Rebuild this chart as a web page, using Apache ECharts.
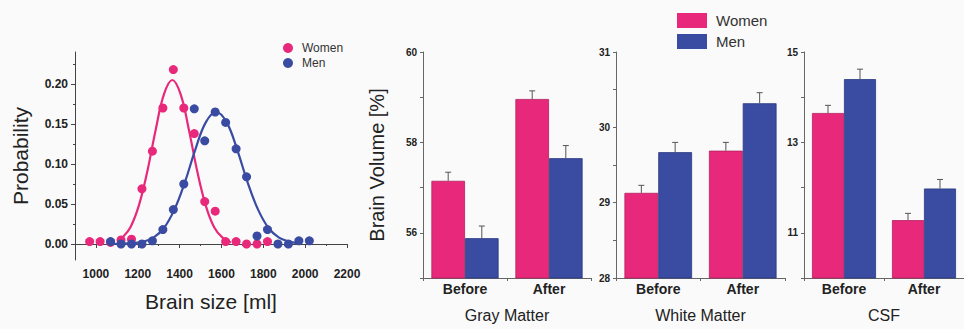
<!DOCTYPE html>
<html><head><meta charset="utf-8">
<script src="https://cdn.jsdelivr.net/npm/echarts@6/dist/echarts.min.js"></script>
<style>html,body{margin:0;padding:0;background:#fafafa}#c{width:964px;height:329px}</style>
</head><body><div id="c"></div>
<script>
// ---- Left panel: brain size distribution ----
const womenX = [970,1020,1070,1120,1170,1220,1270,1320,1370,1420,1470,1520,1570,1620,1670,1720,1770,1820];
const womenY = [0.003,0.003,0.002,0.005,0.006,0.069,0.116,0.170,0.218,0.170,0.138,0.053,0.041,0.003,0.003,0.000,0.000,0.003];
const menX = [1070,1120,1170,1220,1270,1320,1370,1420,1470,1520,1570,1620,1670,1720,1770,1820,1870,1920,1970,2020];
const menY = [0.003,0.000,0.000,0.000,0.004,0.018,0.043,0.075,0.169,0.129,0.165,0.152,0.119,0.084,0.010,0.018,0.000,0.000,0.004,0.004];
const womenFitX = [1130,1165,1205,1245,1285,1325,1365,1405,1445,1485,1525,1565,1605,1645];
const womenFitY = [0.009,0.021,0.048,0.090,0.142,0.187,0.205,0.187,0.142,0.090,0.048,0.021,0.008,0.002];
const menFitX = [1080,1175,1225,1275,1325,1375,1425,1475,1525,1575,1625,1675,1725,1775,1825,1875,1925,1960];
const menFitY = [0.000,0.001,0.003,0.008,0.020,0.043,0.077,0.118,0.152,0.165,0.152,0.118,0.077,0.043,0.020,0.008,0.003,0.001];
const sizeTicks = [1000,1200,1400,1600,1800,2000,2200];
const sizeMinorTicks = [1100,1300,1500,1700,1900,2100];
const probTicks = [0,0.05,0.10,0.15,0.20];
const probMinorTicks = [0.025,0.075,0.125,0.175,0.225];

// ---- Right panels: brain volume bars ----
const categories = ['Before','After'];
const grayWomen = [57.15, 58.96];
const grayWomenErr = [0.19, 0.18];
const grayMen = [55.88, 57.65];
const grayMenErr = [0.27, 0.28];
const whiteWomen = [29.13, 29.69];
const whiteWomenErr = [0.10, 0.11];
const whiteMen = [29.67, 30.32];
const whiteMenErr = [0.13, 0.14];
const csfWomen = [13.65, 11.28];
const csfWomenErr = [0.17, 0.15];
const csfMen = [14.40, 11.98];
const csfMenErr = [0.22, 0.20];
const grayTicks = [56,58,60], grayAllTicks = [55,56,57,58,59,60];
const whiteTicks = [28,29,30,31], whiteAllTicks = [28,28.5,29,29.5,30,30.5,31];
const csfTicks = [11,13,15], csfAllTicks = [10,11,12,13,14,15];

const PINK = '#e8297b', BLUE = '#3a4ba2';
const TXT = '#222';
const zip = (a,b) => a.map((v,i)=>[v,b[i]]);

const chart = echarts.init(document.getElementById('c'), null, {renderer:'svg'});

function errSeries(name, xi, yi, vals, errs, sign){
  return {
    type:'custom', name: name+'-err', xAxisIndex:xi, yAxisIndex:yi, z:5, silent:true,
    encode:{x:0,y:1},
    data: vals.map((v,i)=>[i, v, errs[i]]),
    renderItem(params, api){
      const ci = api.value(0), v = api.value(1), e = api.value(2);
      const p0 = api.coord([ci, v]);
      const p1 = api.coord([ci, v+e]);
      const bw = api.size([1,0])[0];
      const x = p0[0] + sign*bw*0.2;
      const st = {stroke:'#555', lineWidth:1};
      return {type:'group', children:[
        {type:'line', shape:{x1:x,y1:p0[1],x2:x,y2:p1[1]}, style:st},
        {type:'line', shape:{x1:x-3,y1:p1[1],x2:x+3,y2:p1[1]}, style:st}
      ]};
    }
  };
}

const grids = [
  {left:75, top:52, width:272, height:208},
  {left:423, top:52, width:168, height:226},
  {left:616, top:52, width:169, height:226},
  {left:804, top:52, width:168, height:226}
];

const axisLineDark = {lineStyle:{color:'#444', width:1}};
const axisLineGray = {lineStyle:{color:'#666', width:1}};

const xAxes = [
  {type:'value', gridIndex:0, min:900, max:2200, position:'bottom',
   axisLine:axisLineDark, splitLine:{show:false},
   axisTick:{customValues:sizeTicks, length:4, lineStyle:{color:'#444'}},
   axisLabel:{customValues:sizeTicks, formatter:v=>String(v), fontSize:12, fontWeight:'bold', color:TXT, margin:8, fontFamily:'Liberation Sans'},
   name:'Brain size [ml]', nameLocation:'middle', nameGap:31,
   nameTextStyle:{fontSize:21, color:TXT, fontFamily:'Liberation Sans'}},
  {type:'value', gridIndex:0, min:900, max:2200, position:'bottom', offset:0,
   axisLine:{show:false}, splitLine:{show:false}, axisLabel:{show:false},
   axisTick:{customValues:sizeMinorTicks, length:2, lineStyle:{color:'#444'}}}
];
const yAxes = [
  {type:'value', gridIndex:0, min:-0.02, max:0.24, position:'left',
   axisLine:{show:true, ...axisLineDark}, splitLine:{show:false},
   axisTick:{show:true, customValues:probTicks, length:4, lineStyle:{color:'#444'}},
   axisLabel:{customValues:probTicks, formatter:v=>v.toFixed(2), fontSize:12, fontWeight:'bold', color:TXT, margin:7, fontFamily:'Liberation Sans'},
   name:'Probability', nameLocation:'middle', nameGap:44,
   nameTextStyle:{fontSize:21, color:TXT, fontFamily:'Liberation Sans'}},
  {type:'value', gridIndex:0, min:-0.02, max:0.24, position:'left', offset:0,
   axisLine:{show:false}, splitLine:{show:false}, axisLabel:{show:false},
   axisTick:{show:true, customValues:probMinorTicks, length:2, lineStyle:{color:'#444'}}}
];

const panels = [
  {title:'Gray Matter', min:55, max:60, labels:grayTicks, ticks:grayAllTicks},
  {title:'White Matter', min:28, max:31, labels:whiteTicks, ticks:whiteAllTicks},
  {title:'CSF', min:10, max:15, labels:csfTicks, ticks:csfAllTicks}
];
panels.forEach((p, k) => {
  const gi = k+1;
  xAxes.push({type:'category', gridIndex:gi, data:categories, position:'bottom',
    axisLine:axisLineGray, axisTick:{show:true, length:3, lineStyle:{color:'#666'}},
    axisLabel:{fontSize:14, fontWeight:'bold', color:TXT, margin:4, fontFamily:'Liberation Sans'},
    name:p.title, nameLocation:'middle', nameGap:29,
    nameTextStyle:{fontSize:16, color:TXT, fontFamily:'Liberation Sans'}});
  const y = {type:'value', gridIndex:gi, min:p.min, max:p.max, position:'left',
    axisLine:{show:true, ...axisLineGray}, splitLine:{show:false},
    axisTick:{show:true, customValues:p.ticks, length:3, lineStyle:{color:'#666'}},
    axisLabel:{customValues:p.labels, fontSize:10, fontWeight:'bold', color:TXT, margin:6, fontFamily:'Liberation Sans'}};
  if (k === 0) {
    y.name = 'Brain Volume [%]'; y.nameLocation = 'middle'; y.nameGap = 36;
    y.nameTextStyle = {fontSize:20, color:TXT, fontFamily:'Liberation Sans'};
  }
  yAxes.push(y);
});

function barSeries(name, xi, yi, vals, color, border){
  return {type:'bar', name, xAxisIndex:xi, yAxisIndex:yi, data:vals,
    barGap:'0%', barCategoryGap:'20%',
    itemStyle:{color, borderColor:border, borderWidth:0.8}};
}

const series = [
  {type:'line', name:'Women fit', xAxisIndex:0, yAxisIndex:0, data:zip(womenFitX, womenFitY),
   smooth:0.4, showSymbol:false, lineStyle:{color:PINK, width:2.2}, silent:true},
  {type:'line', name:'Men fit', xAxisIndex:0, yAxisIndex:0, data:zip(menFitX, menFitY),
   smooth:0.4, showSymbol:false, lineStyle:{color:BLUE, width:2.2}, silent:true},
  {type:'scatter', name:'Women', xAxisIndex:0, yAxisIndex:0, data:zip(womenX, womenY),
   symbolSize:9, itemStyle:{color:PINK, opacity:1}},
  {type:'scatter', name:'Men', xAxisIndex:0, yAxisIndex:0, data:zip(menX, menY),
   symbolSize:9, itemStyle:{color:BLUE, opacity:1}},
  barSeries('Women', 2, 2, grayWomen, PINK, '#b3205e'),
  barSeries('Men', 2, 2, grayMen, BLUE, '#2a387e'),
  errSeries('Women', 2, 2, grayWomen, grayWomenErr, -1),
  errSeries('Men', 2, 2, grayMen, grayMenErr, 1),
  barSeries('Women', 3, 3, whiteWomen, PINK, '#b3205e'),
  barSeries('Men', 3, 3, whiteMen, BLUE, '#2a387e'),
  errSeries('Women', 3, 3, whiteWomen, whiteWomenErr, -1),
  errSeries('Men', 3, 3, whiteMen, whiteMenErr, 1),
  barSeries('Women', 4, 4, csfWomen, PINK, '#b3205e'),
  barSeries('Men', 4, 4, csfMen, BLUE, '#2a387e'),
  errSeries('Women', 4, 4, csfWomen, csfWomenErr, -1),
  errSeries('Men', 4, 4, csfMen, csfMenErr, 1)
];

chart.setOption({
  animation:false,
  backgroundColor:'#fafafa',
  textStyle:{fontFamily:'Liberation Sans'},
  grid:grids,
  xAxis:xAxes,
  yAxis:yAxes,
  legend:[
    {data:['Women','Men'], left:278, top:37, orient:'vertical', icon:'circle',
     itemWidth:18, itemHeight:10, itemGap:3, selectedMode:false,
     textStyle:{fontSize:12, color:'#333', fontFamily:'Liberation Sans'}},
    {data:['Women','Men'], left:672, top:8, orient:'vertical', icon:'rect',
     itemWidth:30, itemHeight:15, itemGap:6, selectedMode:false,
     textStyle:{fontSize:15, color:'#333', padding:[0,0,0,4], fontFamily:'Liberation Sans'}}
  ],
  series
});
</script></body></html>
